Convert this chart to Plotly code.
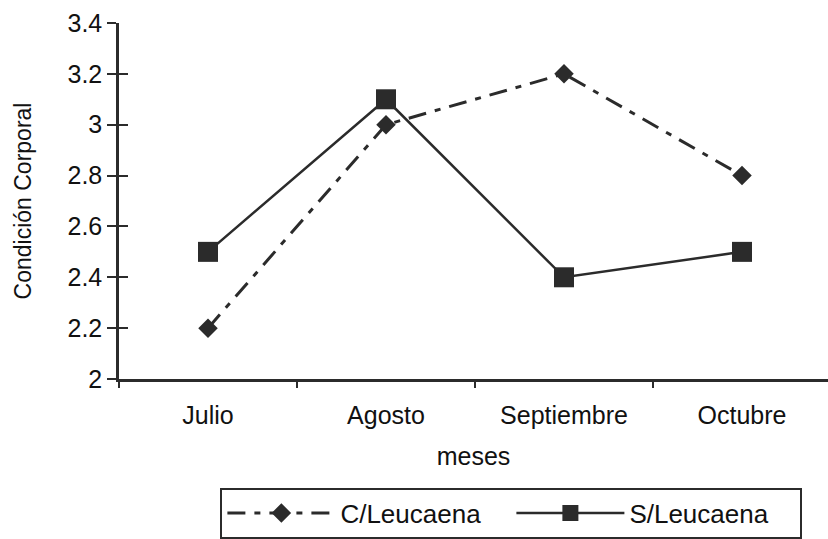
import plotly.graph_objects as go

meses = ["Julio", "Agosto", "Septiembre", "Octubre"]
c_leucaena = [2.2, 3.0, 3.2, 2.8]
s_leucaena = [2.5, 3.1, 2.4, 2.5]
y_ticks = [2, 2.2, 2.4, 2.6, 2.8, 3, 3.2, 3.4]
y_tick_text = ["2", "2.2", "2.4", "2.6", "2.8", "3", "3.2", "3.4"]

ink = "#2b2b2b"
font = "Liberation Sans, Arial, sans-serif"

fig = go.Figure()
fig.add_trace(go.Scatter(
    x=meses, y=c_leucaena, name="C/Leucaena", mode="lines+markers",
    line=dict(color=ink, width=3, dash="18px,9px,6px,9px"),
    marker=dict(symbol="diamond", size=15, color=ink),
))
fig.add_trace(go.Scatter(
    x=meses, y=s_leucaena, name="S/Leucaena", mode="lines+markers",
    line=dict(color=ink, width=2.5),
    marker=dict(symbol="square", size=20, color=ink),
))
# invisible trace anchoring the secondary y axis that carries the inner tick halves
fig.add_trace(go.Scatter(x=meses, y=c_leucaena, yaxis="y2", mode="none",
                         showlegend=False, hoverinfo="skip"))

fig.update_layout(
    width=828, height=539,
    margin=dict(l=119, r=0, t=23, b=160),
    paper_bgcolor="white", plot_bgcolor="white",
    font=dict(family=font, color="#111", size=25),
    showlegend=True,
    legend=dict(
        orientation="h", x=0.143, y=-0.305, xanchor="left", yanchor="top",
        bordercolor=ink, borderwidth=2, font=dict(size=26),
        itemwidth=108, entrywidth=166,
    ),
    xaxis=dict(
        type="category", range=[-0.5, 3.483],
        showline=True, linecolor=ink, linewidth=2.5,
        ticks="outside", tickson="boundaries", ticklen=6, tickwidth=2, tickcolor=ink,
        showgrid=False, zeroline=False,
        title=dict(text="meses", font=dict(size=25), standoff=20),
        tickfont=dict(size=25), ticklabelstandoff=12,
    ),
    yaxis=dict(
        range=[2, 3.4], tickvals=y_ticks, ticktext=y_tick_text,
        showline=True, linecolor=ink, linewidth=2.5,
        ticks="outside", ticklen=9, tickwidth=2, tickcolor=ink,
        showgrid=False, zeroline=False,
        title=dict(text="Condición Corporal", font=dict(size=23), standoff=30),
        tickfont=dict(size=25),
    ),
    yaxis2=dict(
        overlaying="y", range=[2, 3.4], tickvals=y_ticks, showticklabels=False,
        ticks="inside", ticklen=9, tickwidth=2, tickcolor=ink,
        showgrid=False, zeroline=False, showline=False,
    ),
)

fig.write_html("out.html")
